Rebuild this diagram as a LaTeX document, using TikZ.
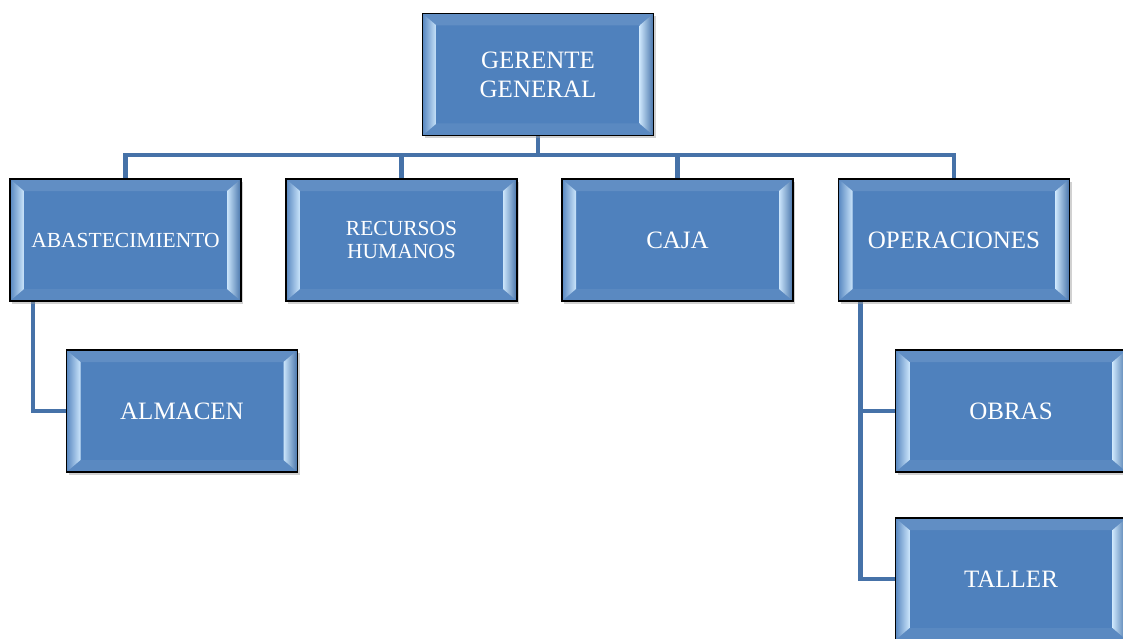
\documentclass[tikz,border=0pt]{standalone}
\usepackage{fontspec}
\setmainfont{Liberation Serif}
\usetikzlibrary{calc,shadows,backgrounds}
\definecolor{cajaazul}{HTML}{4F81BD}
\definecolor{brillo}{HTML}{CBE5FB}
\definecolor{lineaazul}{HTML}{4672A8}

\tikzset{
	puesto/.style={draw=black, line width=1.8pt, fill=cajaazul, text=white,
		minimum width=231pt, minimum height=122pt, inner sep=0pt, align=center,
		font=\fontsize{25}{29}\selectfont,
		drop shadow={shadow xshift=2pt, shadow yshift=-3pt, fill=black!40, opacity=0.45},
		path picture={
			\coordinate (pnw) at (path picture bounding box.north west);
			\coordinate (pne) at (path picture bounding box.north east);
			\coordinate (psw) at (path picture bounding box.south west);
			\coordinate (pse) at (path picture bounding box.south east);
			\fill[cajaazul!90!white] (pnw) -- ($(pnw)+(14pt,-12pt)$) -- ($(pne)+(-14pt,-12pt)$) -- (pne) -- cycle;
			\fill[cajaazul!94!white] (psw) -- ($(psw)+(14pt,12pt)$) -- ($(pse)+(-14pt,12pt)$) -- (pse) -- cycle;
			\shade[left color=cajaazul!95!white, right color=brillo] (pnw) -- ($(pnw)+(14pt,-12pt)$) -- ($(psw)+(14pt,12pt)$) -- (psw) -- cycle;
			\shade[left color=brillo, right color=cajaazul!90!black] (pne) -- ($(pne)+(-14pt,-12pt)$) -- ($(pse)+(-14pt,12pt)$) -- (pse) -- cycle;
		}},
	chico/.style={font=\fontsize{21.5}{23}\selectfont},
	linea/.style={draw=lineaazul, line width=4.5pt},
}

\begin{document}
\begin{tikzpicture}[x=1pt, y=-1pt]
		%%%%% CARGOS %%%%%
		\useasboundingbox (0,0) rectangle (1123,639);
		
		\node[puesto] (gerente) at (538, 74.5) {GERENTE\\GENERAL};
		
		\node[puesto, chico] (abast) at (125.5, 240) {ABASTECIMIENTO};
		\node[puesto, chico] (rrhh) at (401.5, 240) {RECURSOS\\HUMANOS};
		\node[puesto] (caja) at (677.5, 240) {CAJA};
		\node[puesto] (operac) at (954, 240) {OPERACIONES};
		
		\node[puesto] (almacen) at (182, 411) {ALMACEN};
		\node[puesto] (obras) at (1011, 411) {OBRAS};
		\node[puesto] (taller) at (1011, 579) {TALLER};
		
		%%%%% LINEAS %%%%%
		\begin{scope}[on background layer]
			\coordinate (barra) at (538, 155);
			\draw[linea] (gerente.south) -- (barra);
			\foreach \n in {abast, rrhh, caja, operac}
				\draw[linea] (\n.north) |- (barra);
			\draw[linea] ([xshift=24pt]abast.south west) |- (almacen.west);
			\draw[linea] ([xshift=23pt]operac.south west) |- (obras.west);
			\draw[linea] ([xshift=23pt]operac.south west) |- (taller.west);
		\end{scope}
	\end{tikzpicture}
\end{document}
